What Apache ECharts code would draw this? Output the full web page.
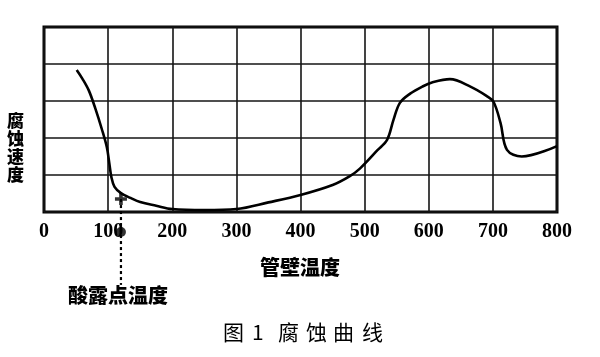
<!DOCTYPE html>
<html>
<head>
<meta charset="utf-8">
<script src="https://cdn.jsdelivr.net/npm/echarts@6/dist/echarts.min.js"></script>
<style>html,body{margin:0;padding:0;background:#fff;}#c{width:600px;height:357px;}</style>
</head>
<body>
<div id="c"></div>
<script>
const temps = [51, 60, 70, 80, 90, 98, 102, 105, 110, 120, 135, 150, 175, 200, 250, 300, 350, 400, 450, 477, 493, 520, 535, 545, 555, 571, 590, 605, 633, 665, 690, 701, 712, 722, 745, 800];
const rates = [3.84, 3.6, 3.28, 2.8, 2.25, 1.75, 1.3, 0.95, 0.68, 0.51, 0.38, 0.27, 0.17, 0.08, 0.05, 0.08, 0.26, 0.46, 0.73, 0.97, 1.18, 1.67, 1.95, 2.49, 2.95, 3.2, 3.39, 3.5, 3.59, 3.39, 3.14, 2.98, 2.4, 1.68, 1.5, 1.78];
const xTicks = [0, 100, 200, 300, 400, 500, 600, 700, 800];
const dewTemp = 120;
const dewLine = [0.35, -1.97];
const dewDot = -0.54;
const titleChars = ['图', '1', '腐', '蚀', '曲', '线'];
const titleLeft = [223, 252, 278, 306, 333, 362];

const chart = echarts.init(document.getElementById('c'), null, {renderer: 'canvas'});
const graphics = [
  {type: 'text', left: 260, top: 257, style: {text: '管壁温度', font: '900 20px "Noto Sans CJK SC"', fill: '#000'}},
  {type: 'text', left: 68, top: 285, style: {text: '酸露点温度', font: '900 20px "Noto Sans CJK SC"', fill: '#000'}},
  {type: 'text', left: 7, top: 112, style: {text: '腐\n蚀\n速\n度', font: '900 17px "Noto Sans CJK SC"', lineHeight: 18, fill: '#000'}}
];
titleChars.forEach((ch, i) => graphics.push({
  type: 'text', left: titleLeft[i], top: 322,
  style: {text: ch, font: '400 21px "Noto Sans CJK SC"', fill: '#000'}
}));
chart.setOption({
  backgroundColor: '#fff',
  animation: false,
  grid: {left: 44, right: 43, top: 27, bottom: 145, show: true, borderColor: '#000', borderWidth: 3, backgroundColor: 'transparent'},
  xAxis: {
    type: 'value', min: 0, max: 800, interval: 100,
    axisLine: {show: false}, axisTick: {show: false},
    axisLabel: {
      margin: 10, color: '#000', fontSize: 20, fontWeight: 'bold', fontFamily: 'Liberation Serif',
      formatter: v => xTicks.indexOf(v) >= 0 ? String(v) : ''
    },
    splitLine: {show: true, lineStyle: {color: '#151515', width: 1.6}}
  },
  yAxis: {
    type: 'value', min: 0, max: 5, interval: 1,
    axisLine: {show: false}, axisTick: {show: false}, axisLabel: {show: false},
    splitLine: {show: true, lineStyle: {color: '#151515', width: 1.6}}
  },
  series: [
    {
      type: 'line', data: temps.map((t, i) => [t, rates[i]]),
      showSymbol: false, smooth: 0.35,
      lineStyle: {color: '#000', width: 2.6}, z: 5
    },
    {
      type: 'line', clip: false, data: [[dewTemp, dewLine[0]], [dewTemp, dewLine[1]]],
      showSymbol: false, lineStyle: {color: '#000', width: 2.2, type: [3, 3]}, z: 6
    },
    {
      type: 'scatter', clip: false, data: [[dewTemp, dewLine[0]]],
      symbol: 'path://M3.5,0 H6.5 V3.5 H10 V6.5 H6.5 V10 H3.5 V6.5 H0 V3.5 H3.5 Z', symbolSize: 12,
      itemStyle: {color: '#000'}, z: 7
    },
    {
      type: 'scatter', clip: false, data: [[dewTemp, dewDot]],
      symbol: 'circle', symbolSize: 10, itemStyle: {color: '#000'}, z: 7
    }
  ],
  graphic: graphics
});
</script>
</body>
</html>
